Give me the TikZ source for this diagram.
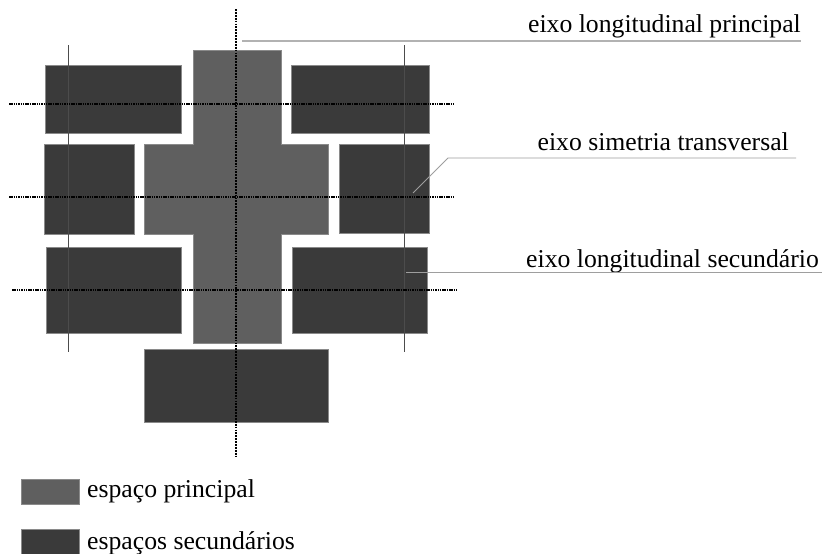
\documentclass[tikz,border=0pt]{standalone}
\usepackage{fontspec}
\setmainfont{Liberation Serif}
\begin{document}
\begin{tikzpicture}[x=1pt,y=-1pt,
  prim/.style={fill=primgray,draw=edgegray,line width=0.6pt},
  sec/.style={fill=secgray,draw=edgegray,line width=0.6pt},
  refline/.style={draw=black!70,line width=0.9pt},
  mainaxis/.style={draw=black,line width=2.6pt,dash pattern=on 1.8pt off 1.1pt},
  crossaxis/.style={draw=black,line width=1.6pt,dash pattern=on 1.5pt off 0.8pt},
  leader/.style={draw=black!38,line width=0.9pt},
  lbl/.style={font=\fontsize{25.7}{30}\selectfont,inner sep=0pt,text=black}]
\definecolor{primgray}{HTML}{5F5F5F}
\definecolor{secgray}{HTML}{3A3A3A}
\definecolor{edgegray}{HTML}{8A8A8A}
\useasboundingbox[fill=white] (0,0) rectangle (822,554);
% principal space (cross)
\draw[prim] (193,50) -- (281,50) -- (281,144) -- (328,144) -- (328,234) -- (281,234)
  -- (281,343) -- (193,343) -- (193,234) -- (144,234) -- (144,144) -- (193,144) -- cycle;
% secondary spaces
\node[sec,inner sep=0pt,minimum width=136pt,minimum height=68pt,anchor=north west] (tl) at (45,65) {};
\node[sec,inner sep=0pt,minimum width=138pt,minimum height=68pt,anchor=north west] (tr) at (291,65) {};
\node[sec,inner sep=0pt,minimum width=90pt,minimum height=90pt,anchor=north west] (ml) at (44,144) {};
\node[sec,inner sep=0pt,minimum width=90pt,minimum height=89pt,anchor=north west] (mr) at (339,144) {};
\node[sec,inner sep=0pt,minimum width=135pt,minimum height=86pt,anchor=north west] (ll) at (46,247) {};
\node[sec,inner sep=0pt,minimum width=135pt,minimum height=86pt,anchor=north west] (lr) at (292,247) {};
\node[sec,inner sep=0pt,minimum width=184pt,minimum height=73pt,anchor=north west] (bt) at (144,349) {};
% thin vertical reference lines
\coordinate (vl1) at (68,45); \coordinate (vl2) at (68,352);
\coordinate (vr1) at (404,45); \coordinate (vr2) at (404,352);
\draw[refline] (vl1) -- (vl2);
\draw[refline] (vr1) -- (vr2);
% axes
\coordinate (h1a) at (9,104); \coordinate (h1b) at (453,104);
\coordinate (h2a) at (9,197); \coordinate (h2b) at (454,197);
\coordinate (h3a) at (12,290); \coordinate (h3b) at (456,290);
\draw[crossaxis] (h1a) -- (h1b);
\draw[crossaxis] (h2a) -- (h2b);
\draw[crossaxis] (h3a) -- (h3b);
\coordinate (va) at (236,9); \coordinate (vb) at (236,457);
\draw[mainaxis] (va) -- (vb);
% labels and leaders
\node[lbl,anchor=base east] (l1) at (801,32) {eixo longitudinal principal};
\node[lbl,anchor=base east] (l2) at (789,150) {eixo simetria transversal};
\node[lbl,anchor=base west] (l3) at (526,267) {eixo longitudinal secundário};
\coordinate (p1a) at (242,41); \coordinate (p1b) at (801,41);
\draw[leader,line width=2pt,draw=black!30] (p1a) -- (p1b);
\coordinate (p2a) at (413,193); \coordinate (p2k) at (448,158); \coordinate (p2b) at (796,158);
\draw[leader] (p2a) -- (p2k) -- (p2b);
\coordinate (p3a) at (406,272); \coordinate (p3b) at (822,272);
\draw[leader] (p3a) -- (p3b);
% legend
\node[prim,inner sep=0pt,minimum width=58pt,minimum height=25pt,anchor=north west] (sw1) at (21,479) {};
\node[sec,inner sep=0pt,minimum width=58pt,minimum height=25pt,anchor=north west] (sw2) at (21,529) {};
\node[lbl,anchor=base west] (t1) at (87,497) {espaço principal};
\node[lbl,anchor=base west] (t2) at (87,549) {espaços secundários};
\end{tikzpicture}
\end{document}
